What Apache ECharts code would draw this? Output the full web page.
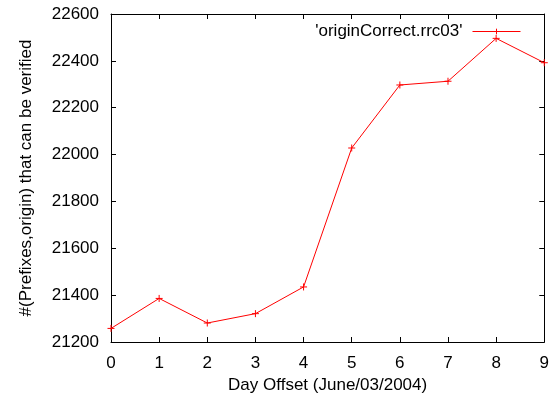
<!DOCTYPE html>
<html><head><meta charset="utf-8">
<script src="https://cdn.jsdelivr.net/npm/echarts@6/dist/echarts.min.js"></script>
<style>html,body{margin:0;padding:0;background:#fff}#c{width:552px;height:401px}</style>
</head><body><div id="c"></div>
<script>
const days = [0,1,2,3,4,5,6,7,8,9];
const verified = [21258,21386,21281,21321,21435,22028,22297,22313,22496,22392];
const seriesName = "'originCorrect.rrc03'";
const xTitle = 'Day Offset (June/03/2004)';
const yTitle = '#(Prefixes,origin) that can be verified';

const font = 'Liberation Sans, Arial, sans-serif';
const fs = 17;
const red = '#ff0000';
const chart = echarts.init(document.getElementById('c'));
const plus = 'path://M0,-1L0,1M-1,0L1,0';
const axisCommon = {
  axisLine:{show:true,onZero:false,lineStyle:{color:'#000',width:1}},
  axisTick:{show:true,inside:true,length:5,lineStyle:{color:'#000'}},
  splitLine:{show:false}
};
chart.setOption({
  animation:false,
  textStyle:{fontFamily:font},
  grid:{left:111,right:6,top:14,bottom:59,containLabel:false},
  legend:{show:true,right:26,top:18,align:'right',itemWidth:48,itemHeight:7,itemGap:10,
    lineStyle:{width:1,color:'inherit',type:'solid',opacity:1},
    itemStyle:{borderWidth:1},
    textStyle:{fontSize:fs,color:'#000',fontFamily:font,padding:[0,5,0,0]},
    data:[{name:seriesName}]},
  xAxis:[
    Object.assign({type:'value',min:0,max:9,interval:1,position:'bottom',
      name:xTitle,nameLocation:'middle',nameGap:35,
      nameTextStyle:{fontSize:fs,color:'#000',fontFamily:font},
      axisLabel:{fontSize:fs,color:'#000',margin:13,fontFamily:font}},axisCommon),
    Object.assign({type:'value',min:0,max:9,interval:1,position:'top',
      axisLabel:{show:false}},axisCommon)
  ],
  yAxis:[
    Object.assign({type:'value',min:21200,max:22600,interval:200,position:'left',
      name:yTitle,nameLocation:'middle',nameGap:76,nameRotate:90,
      nameTextStyle:{fontSize:fs,color:'#000',fontFamily:font},
      axisLabel:{fontSize:fs,color:'#000',margin:12,fontFamily:font,formatter:v=>String(v)}},axisCommon),
    Object.assign({type:'value',min:21200,max:22600,interval:200,position:'right',
      axisLabel:{show:false}},axisCommon)
  ],
  series:[{
    name:seriesName,type:'line',
    data:days.map((d,i)=>[d,verified[i]]),
    symbol:plus,symbolSize:7,showAllSymbol:true,
    lineStyle:{color:red,width:1},
    itemStyle:{color:red,borderColor:red,borderWidth:1},
    emphasis:{disabled:true}
  }]
});
</script></body></html>
